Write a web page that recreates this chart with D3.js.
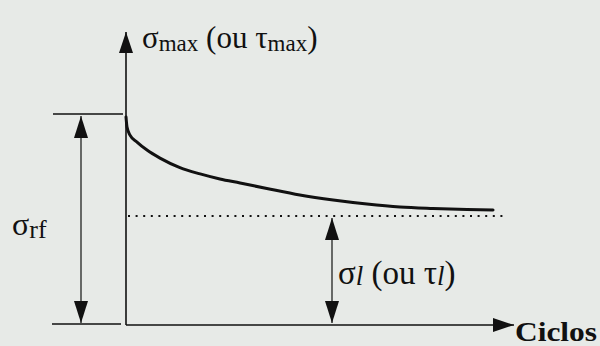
<!DOCTYPE html>
<html>
<head>
<meta charset="utf-8">
<script src="https://cdn.jsdelivr.net/npm/d3@7"></script>
<style>
  html, body { margin: 0; padding: 0; background: #e7eae7; }
  svg { display: block; }
</style>
</head>
<body>
<svg id="chart" width="600" height="346"></svg>
<script>
// Fatigue curve: maximum stress versus number of cycles
const cycles = [0, 0.26, 1.03, 2.84, 5.41, 8.76, 13.9, 19.1, 24.2, 29.4, 36.3, 44.8, 53.4, 62.1, 70.6, 79.1, 87.9, 94.6];
const stress = [98.6, 93.8, 90.0, 86.7, 82.9, 79.1, 74.6, 71.6, 69.2, 67.3, 64.7, 61.6, 59.2, 57.3, 55.9, 55.2, 54.7, 54.5];
const ruptureStress = [100];      // σrf
const enduranceLimit = [51.7];    // σl
const enduranceEnd = [98.2];      // extent of the dotted limit line

const serif = '"Liberation Serif", "Times New Roman", serif';
const svg = d3.select("#chart");
const ink = "#111";

const x = d3.scaleLinear().domain([0, 100]).range([126, 514]);
const y = d3.scaleLinear().domain([0, 100]).range([325, 114]);

const defs = svg.append("defs");
function arrowMarker(id, len, half) {
  defs.append("marker")
    .attr("id", id)
    .attr("viewBox", `0 ${-half} ${len} ${2 * half}`)
    .attr("refX", len).attr("refY", 0)
    .attr("markerUnits", "userSpaceOnUse")
    .attr("markerWidth", len).attr("markerHeight", 2 * half)
    .attr("orient", "auto-start-reverse")
    .append("path")
    .attr("d", `M0,${-half}L${len},0L0,${half}Z`)
    .attr("fill", ink);
}
arrowMarker("axisHead", 21, 7);
arrowMarker("dimHead", 22, 7);

// Axes
const axisTop = 32;
svg.append("line")
  .attr("x1", x(0)).attr("y1", y(0)).attr("x2", x(0)).attr("y2", axisTop)
  .attr("stroke", ink).attr("stroke-width", 1.6)
  .attr("marker-end", "url(#axisHead)");
svg.append("line")
  .attr("x1", x(0)).attr("y1", y(0)).attr("x2", x(100)).attr("y2", y(0))
  .attr("stroke", ink).attr("stroke-width", 1.6)
  .attr("marker-end", "url(#axisHead)");

// Reference ticks for the rupture stress and the zero level
svg.append("line")
  .attr("x1", 53).attr("x2", x(0) - 3)
  .attr("y1", y(ruptureStress[0])).attr("y2", y(ruptureStress[0]))
  .attr("stroke", ink).attr("stroke-width", 1.5);
svg.append("line")
  .attr("x1", 52).attr("x2", x(0) - 5)
  .attr("y1", y(0) - 1).attr("y2", y(0) - 1)
  .attr("stroke", ink).attr("stroke-width", 1.5);

// Dimension arrow for σrf
svg.append("line")
  .attr("x1", 81).attr("x2", 81)
  .attr("y1", y(ruptureStress[0]) + 2).attr("y2", y(0) - 2)
  .attr("stroke", ink).attr("stroke-width", 1.2)
  .attr("marker-start", "url(#dimHead)")
  .attr("marker-end", "url(#dimHead)");

// Endurance limit (dotted)
svg.append("line")
  .attr("x1", x(0) + 2).attr("x2", x(enduranceEnd[0]))
  .attr("y1", y(enduranceLimit[0])).attr("y2", y(enduranceLimit[0]))
  .attr("stroke", ink).attr("stroke-width", 2)
  .attr("stroke-dasharray", "2,5.6");

// Dimension arrow for σl
svg.append("line")
  .attr("x1", 332).attr("x2", 332)
  .attr("y1", y(enduranceLimit[0]) + 2).attr("y2", y(0) - 2)
  .attr("stroke", ink).attr("stroke-width", 1.2)
  .attr("marker-start", "url(#dimHead)")
  .attr("marker-end", "url(#dimHead)");

// Fatigue curve
const pts = cycles.map((c, i) => [c, stress[i]]);
svg.append("path")
  .datum(pts)
  .attr("fill", "none")
  .attr("stroke", ink).attr("stroke-width", 3)
  .attr("stroke-linecap", "round")
  .attr("d", d3.line().x(d => x(d[0])).y(d => y(d[1])).curve(d3.curveMonotoneX));

// Labels
function label(xp, yp, size) {
  return svg.append("text").attr("x", xp).attr("y", yp)
    .attr("font-family", serif).attr("font-size", size).attr("fill", ink);
}
const title = label(142, 48, 31);
title.append("tspan").text("σ");
title.append("tspan").attr("font-size", 23).attr("dy", 3).text("max");
title.append("tspan").attr("dy", -3).text(" (ou τ");
title.append("tspan").attr("font-size", 23).attr("dy", 3).text("max");
title.append("tspan").attr("dy", -3).text(")");

const rf = label(12, 235, 32);
rf.append("tspan").text("σ");
rf.append("tspan").attr("font-size", 26).attr("dy", 3).text("rf");

const lim = label(338, 284, 33);
lim.append("tspan").text("σ");
lim.append("tspan").attr("font-size", 27).attr("font-style", "italic").attr("dy", 1).text("l");
lim.append("tspan").attr("dy", -1).text(" (ou τ");
lim.append("tspan").attr("font-size", 27).attr("font-style", "italic").attr("dy", 1).text("l");
lim.append("tspan").attr("dy", -1).text(")");

label(515, 341, 28).attr("font-weight", "bold")
  .attr("textLength", 82).attr("lengthAdjust", "spacingAndGlyphs").text("Ciclos");
</script>
</body>
</html>
